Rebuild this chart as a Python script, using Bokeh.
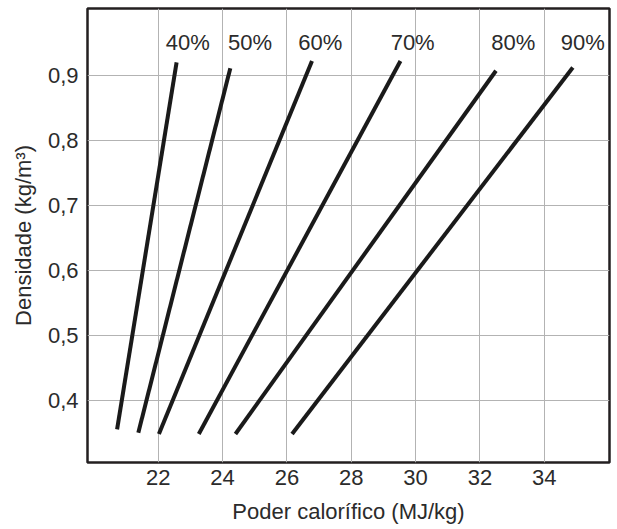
from bokeh.plotting import figure
from bokeh.models import FixedTicker, ColumnDataSource, Range1d
from bokeh.core.properties import value
from bokeh.embed import file_html
from bokeh.resources import INLINE

# Data
series_labels = ["40%", "50%", "60%", "70%", "80%", "90%"]
x_start = [20.72, 21.38, 22.02, 23.26, 24.40, 26.16]
y_start = [0.355, 0.350, 0.348, 0.348, 0.348, 0.348]
x_end = [22.57, 24.24, 26.78, 29.53, 32.50, 34.89]
y_end = [0.921, 0.912, 0.923, 0.923, 0.908, 0.913]
label_x = [22.92, 24.85, 27.04, 29.91, 33.04, 35.20]
label_y = [0.951, 0.951, 0.951, 0.951, 0.951, 0.951]

x_ticks = [22, 24, 26, 28, 30, 32, 34]
y_ticks = [0.4, 0.5, 0.6, 0.7, 0.8, 0.9]
y_tick_labels = ["0,4", "0,5", "0,6", "0,7", "0,8", "0,9"]

FONT = "Liberation Sans"
TXT = "#2b2b2b"
FS = "22px"

p = figure(width=617, height=529, output_backend="svg", toolbar_location=None,
           x_range=Range1d(19.8, 36.03), y_range=Range1d(0.304, 1.004),
           min_border_left=87, min_border_right=8, min_border_top=8, min_border_bottom=67)
p.background_fill_color = "white"
p.border_fill_color = "white"
p.outline_line_color = "#231f20"
p.outline_line_width = 2.5

p.xaxis.ticker = FixedTicker(ticks=x_ticks)
p.yaxis.ticker = FixedTicker(ticks=y_ticks)
p.yaxis.major_label_overrides = {t: l for t, l in zip(y_ticks, y_tick_labels)}
p.xaxis.major_label_overrides = {t: str(t) for t in x_ticks}

for ax in (p.xaxis, p.yaxis):
    ax.axis_line_color = None
    ax.major_tick_line_color = None
    ax.minor_tick_line_color = None
    ax.major_tick_in = 0
    ax.major_tick_out = 0
    ax.minor_tick_out = 0
    ax.major_label_text_font = FONT
    ax.major_label_text_font_size = FS
    ax.major_label_text_color = TXT
    ax.axis_label_text_font = FONT
    ax.axis_label_text_font_size = FS
    ax.axis_label_text_font_style = "normal"
    ax.axis_label_text_color = TXT

p.xaxis.axis_label = "Poder calorífico (MJ/kg)"
p.yaxis.axis_label = "Densidade (kg/m³)"
p.xaxis.major_label_standoff = 7
p.yaxis.major_label_standoff = 9
p.xaxis.axis_label_standoff = 11
p.yaxis.axis_label_standoff = 9

p.xgrid.grid_line_color = "#b3b3b3"
p.ygrid.grid_line_color = "#b3b3b3"
p.xgrid.grid_line_width = 1
p.ygrid.grid_line_width = 1

src = ColumnDataSource(dict(x0=x_start, y0=y_start, x1=x_end, y1=y_end))
p.segment(x0="x0", y0="y0", x1="x1", y1="y1", source=src,
          line_color="#1a1a1a", line_width=4, line_cap="butt")

lsrc = ColumnDataSource(dict(x=label_x, y=label_y, t=series_labels))
p.text(x="x", y="y", text="t", source=lsrc, text_font=value(FONT),
       text_font_size=FS, text_color=TXT, text_align="center",
       text_baseline="middle")

open("out.html", "w").write(file_html(p, INLINE))
